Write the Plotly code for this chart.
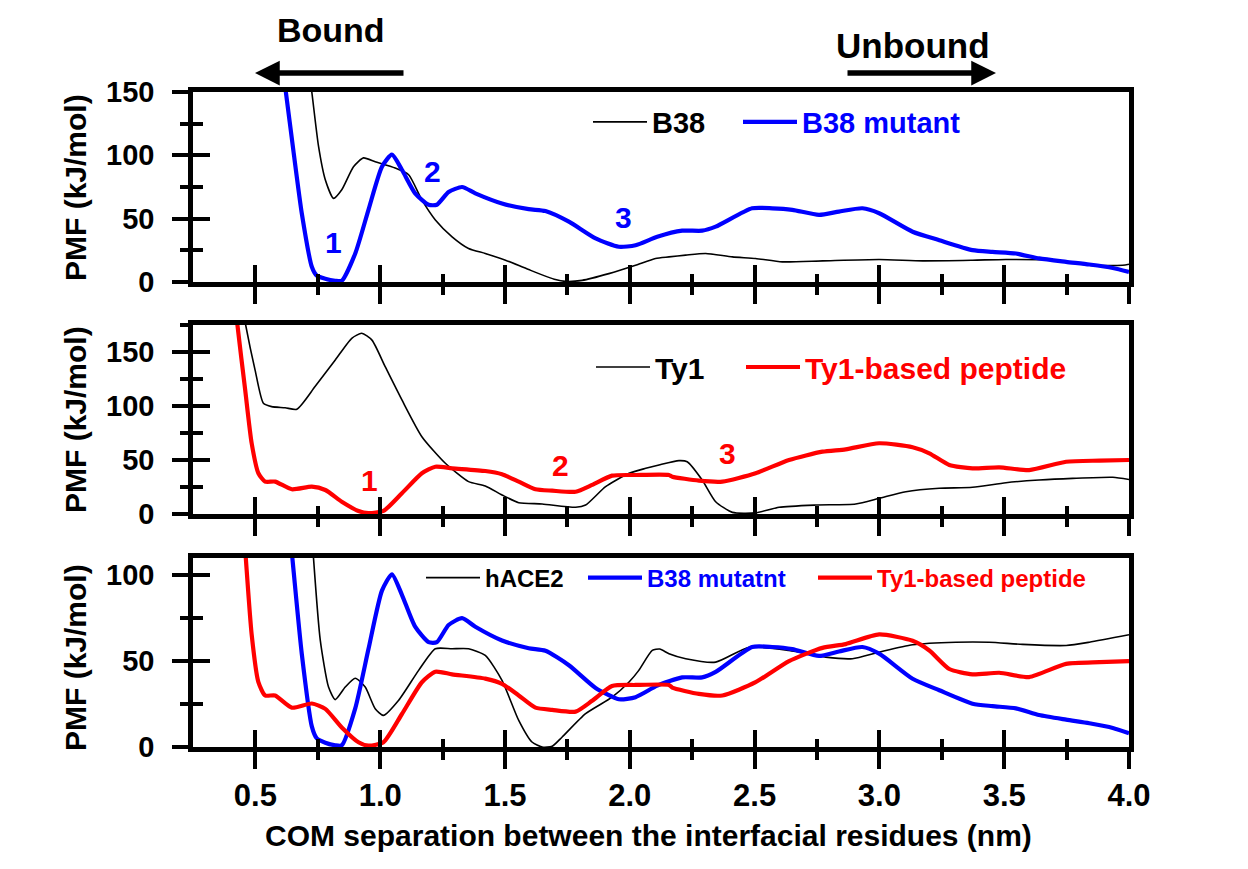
import plotly.graph_objects as go

# ---------------- data ----------------
# Top panel
b38_x = [0.70, 0.726, 0.753, 0.78, 0.813, 0.846, 0.893, 0.933, 0.98, 1.06, 1.114, 1.167, 1.221, 1.288,
         1.354, 1.421, 1.502, 1.595, 1.702, 1.742, 1.809, 1.916, 2.023, 2.103, 2.157, 2.224, 2.304, 2.411,
         2.504, 2.611, 2.772, 2.999, 3.173, 3.373, 3.507, 3.707, 3.841, 3.975, 4.0]
b38_y = [190, 150, 107, 80.7, 66, 72.8, 91, 98, 95, 90, 84.7, 64.8, 49, 35.7,
         26.5, 22.5, 17.2, 9.8, 1.9, 0.5, 1.3, 6.6, 13.2, 18.6, 19.8, 21.2, 22.5, 19.8,
         18.6, 15.9, 16.7, 17.8, 16.7, 17.2, 17.8, 17.2, 13.2, 13.2, 14]

mut_x = [0.60, 0.622, 0.652, 0.686, 0.726, 0.746, 0.78, 0.82, 0.846, 0.9, 0.953, 1.007, 1.047, 1.087,
         1.14, 1.194, 1.227, 1.274, 1.328, 1.381, 1.488, 1.595, 1.662, 1.756, 1.863, 1.956, 2.023,
         2.11, 2.21, 2.29, 2.344, 2.49, 2.571, 2.651, 2.758, 2.838, 2.932, 2.999, 3.133, 3.24,
         3.373, 3.453, 3.547, 3.64, 3.748, 3.841, 3.935, 4.0]
mut_y = [183, 150, 104, 54, 12, 5, 2.5, 1, 1, 22.5, 57, 91, 100.5, 88.6,
         70, 61, 61, 71, 75, 70, 62, 57.5, 56, 47.6, 34.4, 27.8, 29,
         35.7, 40.5, 40.5, 43.7, 58.2, 58.2, 57, 53, 55.6, 58.2, 54.3, 39.7, 33,
         25.2, 23.8, 22.5, 18.6, 15.9, 13.8, 11.1, 8]

# Middle panel
ty1_x = [0.45, 0.461, 0.499, 0.532, 0.565, 0.619, 0.666, 0.739, 0.82, 0.886, 0.926, 0.967, 1.02, 1.087,
         1.167, 1.261, 1.354, 1.421, 1.488, 1.555, 1.649, 1.783, 1.823, 1.903, 1.997, 2.064, 2.117,
         2.197, 2.23, 2.29, 2.344, 2.411, 2.504, 2.598, 2.745, 2.905, 2.999, 3.106, 3.24, 3.373,
         3.507, 3.64, 3.774, 3.935, 4.0]
ty1_y = [190, 175, 133, 102.5, 99.4, 98.4, 97, 118, 142.6, 162.7, 167.3, 161, 136.4, 105.6,
         71.6, 47, 30, 26, 17.6, 10.5, 9.3, 6.2, 8.3, 25.3, 37.7, 42.3, 45.4,
         49.4, 48.4, 31.5, 11.4, 1.5, 1.0, 6.2, 8.3, 9.3, 14.5, 20.6, 23.8, 24.7,
         29, 31.5, 33, 34, 32]

pep_x = [0.42, 0.428, 0.459, 0.485, 0.512, 0.539, 0.579, 0.646, 0.726, 0.78, 0.846, 0.913, 0.953, 1.013,
         1.087, 1.167, 1.221, 1.288, 1.421, 1.488, 1.555, 1.622, 1.689, 1.783, 1.849, 1.929, 2.023,
         2.157, 2.17, 2.277, 2.371, 2.504, 2.638, 2.772, 2.865, 2.999, 3.133, 3.2, 3.28, 3.373,
         3.48, 3.6, 3.748, 3.882, 4.0]
pep_y = [195, 175, 115, 65.5, 37.7, 30, 30, 22.9, 25.3, 22.2, 11.4, 2.8, 0.8, 2.8,
         19.2, 37.7, 43.8, 42.3, 39.8, 36.8, 30, 22.9, 21.6, 20.6, 26.9, 35.5, 36.1,
         36.1, 34.6, 30.9, 30, 37.7, 50, 57.7, 59.9, 65.5, 61.8, 56.2, 45.4, 42.3,
         43.2, 40.7, 48.4, 49.4, 50]

# Bottom panel (hACE2 + the two curves above)
ace_x = [0.72, 0.733, 0.76, 0.793, 0.82, 0.86, 0.9, 0.94, 0.98, 1.013, 1.074, 1.154, 1.221, 1.288,
         1.354, 1.421, 1.488, 1.555, 1.608, 1.649, 1.689, 1.729, 1.823, 1.929, 1.997, 2.036, 2.09,
         2.12, 2.157, 2.224, 2.344, 2.478, 2.638, 2.785, 2.892, 2.999, 3.133, 3.306, 3.44, 3.574,
         3.748, 3.841, 4.0]
ace_y = [140, 109.5, 62, 34.9, 27.6, 34.9, 40, 34.9, 22.3, 18.4, 27.2, 44.6, 57.2, 57.2,
         57.2, 53.3, 38.8, 15.5, 2.9, 0, 0.4, 5.8, 19.4, 29, 37.8, 44.6, 56.2,
         57, 54.3, 51.4, 49.4, 58.1, 56.2, 52.3, 51.4, 55.2, 59.5, 61, 61, 59.7,
         59.1, 61, 65.3]

x_ticks = [0.5, 1.0, 1.5, 2.0, 2.5, 3.0, 3.5, 4.0]
x_tick_text = ["0.5", "1.0", "1.5", "2.0", "2.5", "3.0", "3.5", "4.0"]

# ---------------- styling ----------------
FONT = "Liberation Sans"
BLACK = "#000000"
BLUE = "#0000ff"
RED = "#ff0000"
OFF = 8                      # default body margin of the html page
W, H = 1248 - OFF, 869 - OFF
L, R, T, B = 193 - OFF, 119, 92 - OFF, 122
PW, PH = W - L - R, H - T - B


def px_x(px):
    return (px - OFF - L) / PW


def px_y(py):
    return (H - B - (py - OFF)) / PH


dom_top = [px_y(282), 1.0]
dom_mid = [px_y(514), px_y(325)]
dom_bot = [0.0, px_y(558)]

fig = go.Figure()

thin = dict(color=BLACK, width=1.6, shape="spline", smoothing=0.6)
thick_b = dict(color=BLUE, width=4.2, shape="spline", smoothing=0.6)
thick_r = dict(color=RED, width=4.2, shape="spline", smoothing=0.6)

fig.add_trace(go.Scatter(x=b38_x, y=b38_y, mode="lines", line=thin, name="B38",
                         xaxis="x", yaxis="y", legend="legend"))
fig.add_trace(go.Scatter(x=mut_x, y=mut_y, mode="lines", line=thick_b, name="B38 mutant",
                         xaxis="x", yaxis="y", legend="legend2"))
fig.add_trace(go.Scatter(x=ty1_x, y=ty1_y, mode="lines", line=thin, name="Ty1",
                         xaxis="x2", yaxis="y2", legend="legend3"))
fig.add_trace(go.Scatter(x=pep_x, y=pep_y, mode="lines", line=thick_r, name="Ty1-based peptide",
                         xaxis="x2", yaxis="y2", legend="legend4"))
fig.add_trace(go.Scatter(x=ace_x, y=ace_y, mode="lines", line=thin, name="hACE2",
                         xaxis="x3", yaxis="y3", legend="legend5"))
fig.add_trace(go.Scatter(x=mut_x, y=mut_y, mode="lines", line=thick_b, name="B38 mutatnt",
                         xaxis="x3", yaxis="y3", legend="legend6"))
fig.add_trace(go.Scatter(x=pep_x, y=pep_y, mode="lines", line=thick_r, name="Ty1-based peptide",
                         xaxis="x3", yaxis="y3", legend="legend7"))
# empty traces so the overlay (inner tick) axes exist as subplots
for xa, ya in (("x4", "y4"), ("x5", "y5"), ("x6", "y6")):
    fig.add_trace(go.Scatter(x=[None], y=[None], mode="lines", xaxis=xa, yaxis=ya,
                             showlegend=False, hoverinfo="skip"))


def xax(anchor, labels):
    return dict(domain=[0, 1], anchor=anchor, range=[0.25, 4.0], showline=True, linewidth=4.5,
                linecolor=BLACK, mirror=True, ticks="outside", ticklen=17, tickwidth=4,
                tickcolor=BLACK, tickvals=x_ticks, ticktext=x_tick_text,
                minor=dict(tickvals=[0.75, 1.25, 1.75, 2.25, 2.75, 3.25, 3.75], ticks="outside",
                           ticklen=8, tickwidth=4, tickcolor=BLACK, showgrid=False),
                showgrid=False, zeroline=False, showticklabels=labels,
                tickfont=dict(family=FONT, size=31, color=BLACK, weight="bold"),
                ticklabelstandoff=0, fixedrange=True)


def xov(base, anchor):
    return dict(overlaying=base, anchor=anchor, range=[0.25, 4.0], showline=False,
                ticks="inside", ticklen=17, tickwidth=4, tickcolor=BLACK, tickvals=x_ticks,
                minor=dict(tickvals=[0.75, 1.25, 1.75, 2.25, 2.75, 3.25, 3.75], ticks="inside",
                           ticklen=8, tickwidth=4, tickcolor=BLACK, showgrid=False),
                showgrid=False, zeroline=False, showticklabels=False, fixedrange=True)


def yax(anchor, dom, top):
    return dict(domain=dom, anchor=anchor, range=[0, top], showline=True, linewidth=4.5,
                linecolor=BLACK, mirror=True, ticks="outside", ticklen=16, tickwidth=4,
                tickcolor=BLACK, tick0=0, dtick=50,
                minor=dict(tick0=0, dtick=25, ticks="outside", ticklen=8, tickwidth=4,
                           tickcolor=BLACK, showgrid=False),
                showgrid=False, zeroline=False,
                tickfont=dict(family=FONT, size=29, color=BLACK, weight="bold"),
                ticklabelstandoff=12, fixedrange=True)


def yov(base, anchor, top):
    return dict(overlaying=base, anchor=anchor, range=[0, top], showline=False,
                ticks="inside", ticklen=17, tickwidth=4, tickcolor=BLACK, tick0=0, dtick=50,
                minor=dict(tick0=0, dtick=25, ticks="inside", ticklen=10, tickwidth=4,
                           tickcolor=BLACK, showgrid=False),
                showgrid=False, zeroline=False, showticklabels=False, fixedrange=True)


def leg(xpx, ypx, size, color):
    return dict(x=px_x(xpx), y=px_y(ypx), xanchor="left", yanchor="middle", orientation="h",
                font=dict(family=FONT, size=size, color=color, weight="bold"),
                bgcolor="rgba(0,0,0,0)", borderwidth=0, itemwidth=54)


annotations = []
# y titles
for cy in (188, 420, 658):
    annotations.append(dict(text="PMF (kJ/mol)", xref="paper", yref="paper", x=px_x(75), y=px_y(cy),
                            textangle=-90, showarrow=False, xanchor="center", yanchor="middle",
                            font=dict(family=FONT, size=30, color=BLACK, weight="bold")))
# x title
annotations.append(dict(text="COM separation between the interfacial residues (nm)", xref="paper",
                        yref="paper", x=px_x(648), y=px_y(835), showarrow=False,
                        xanchor="center", yanchor="middle",
                        font=dict(family=FONT, size=30, color=BLACK, weight="bold")))
# Bound / Unbound
annotations.append(dict(text="Bound", xref="paper", yref="paper", x=px_x(331), y=px_y(30),
                        showarrow=False, xanchor="center", yanchor="middle",
                        font=dict(family=FONT, size=34, color=BLACK, weight="bold")))
annotations.append(dict(text="Unbound", xref="paper", yref="paper", x=px_x(913), y=px_y(45),
                        showarrow=False, xanchor="center", yanchor="middle",
                        font=dict(family=FONT, size=35, color=BLACK, weight="bold")))
annotations.append(dict(text="", xref="paper", yref="paper", x=px_x(255), y=px_y(73),
                        axref="pixel", ayref="pixel", ax=150, ay=0, showarrow=True,
                        arrowhead=2, arrowsize=0.9, arrowwidth=5.5, arrowcolor=BLACK, standoff=0))
annotations.append(dict(text="", xref="paper", yref="paper", x=px_x(996), y=px_y(73),
                        axref="pixel", ayref="pixel", ax=-150, ay=0, showarrow=True,
                        arrowhead=2, arrowsize=0.9, arrowwidth=5.5, arrowcolor=BLACK, standoff=0))
# numbered minima
labels = [("1", 0.813, 31, "x", "y", BLUE), ("2", 1.21, 87, "x", "y", BLUE),
          ("3", 1.976, 51, "x", "y", BLUE),
          ("1", 0.957, 31, "x2", "y2", RED), ("2", 1.724, 45, "x2", "y2", RED),
          ("3", 2.39, 56, "x2", "y2", RED)]
for t, lx, ly, xr, yr, c in labels:
    annotations.append(dict(text=t, x=lx, y=ly, xref=xr, yref=yr, showarrow=False,
                            font=dict(family=FONT, size=30, color=c, weight="bold")))

fig.update_layout(
    width=W, height=H, autosize=False,
    margin=dict(l=L, r=R, t=T, b=B, pad=0),
    paper_bgcolor="white", plot_bgcolor="white",
    showlegend=True,
    xaxis=xax("y", False), yaxis=yax("x", dom_top, 150),
    xaxis2=xax("y2", False), yaxis2=yax("x2", dom_mid, 175),
    xaxis3=xax("y3", True), yaxis3=yax("x3", dom_bot, 110),
    xaxis4=xov("x", "y"), yaxis4=yov("y", "x", 150),
    xaxis5=xov("x2", "y2"), yaxis5=yov("y2", "x2", 175),
    xaxis6=xov("x3", "y3"), yaxis6=yov("y3", "x3", 110),
    legend=leg(588, 122, 29, BLACK),
    legend2=leg(738, 122, 29, BLUE),
    legend3=leg(591, 367, 30, BLACK),
    legend4=leg(741, 367, 30, RED),
    legend5=leg(421, 578, 24, BLACK),
    legend6=leg(583, 578, 24, BLUE),
    legend7=leg(813, 578, 24, RED),
    annotations=annotations,
    hovermode=False,
)

fig.write_html("out.html")
